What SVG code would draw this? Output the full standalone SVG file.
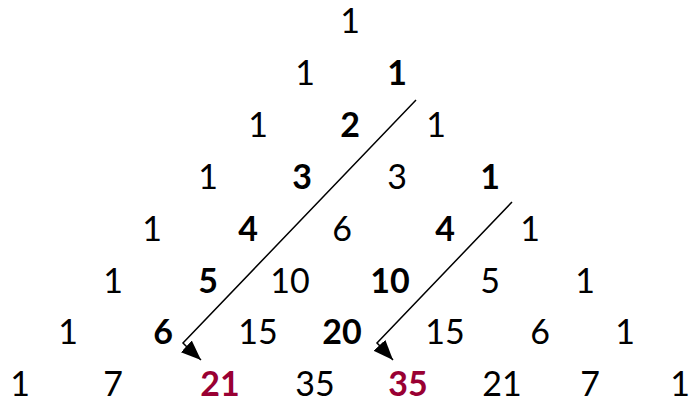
<svg xmlns="http://www.w3.org/2000/svg" width="690" height="402" viewBox="0 0 690 402">
<style>
text{font-family:Lato,"Noto Sans",sans-serif;font-size:34px;fill:#000;text-anchor:middle}
.b{font-weight:bold}
.r{font-weight:bold;fill:#990033}
.c{fill:none;stroke:#000;stroke-width:1.5}
</style>
<defs>
<marker id="ah" markerUnits="userSpaceOnUse" markerWidth="22" markerHeight="18" refX="20" refY="8" orient="auto">
<path d="M0,0 L20,8 L0,16 z" fill="#000"/>
</marker>
</defs>
<rect width="690" height="402" fill="#fff"/>
<g id="row0"><text x="350" y="33">1</text></g>
<g id="row1"><text x="305" y="85">1</text><text class="b" x="397" y="85">1</text></g>
<g id="row2"><text x="258" y="137">1</text><text class="b" x="350" y="137">2</text><text x="436" y="137">1</text></g>
<g id="row3"><text x="208" y="189">1</text><text class="b" x="302" y="189">3</text><text x="397" y="189">3</text><text class="b" x="490" y="189">1</text></g>
<g id="row4"><text x="152" y="241">1</text><text class="b" x="248" y="241">4</text><text x="342" y="241">6</text><text class="b" x="445" y="241">4</text><text x="530" y="241">1</text></g>
<g id="row5"><text x="113" y="293">1</text><text class="b" x="208" y="293">5</text><text x="290" y="293">10</text><text class="b" x="390" y="293">10</text><text x="490" y="293">5</text><text x="585" y="293">1</text></g>
<g id="row6"><text x="68" y="344">1</text><text class="b" x="163" y="344">6</text><text x="258" y="344">15</text><text class="b" x="342" y="344">20</text><text x="445" y="344">15</text><text x="540" y="344">6</text><text x="625" y="344">1</text></g>
<g id="row7"><text x="20" y="396">1</text><text x="113" y="396">7</text><text class="r" x="220" y="396">21</text><text x="315" y="396">35</text><text class="r" x="408" y="396">35</text><text x="502" y="396">21</text><text x="590" y="396">7</text><text x="680" y="396">1</text></g>
<g id="connectors">
<path class="c" d="M416,100 L183,343 L187,347 L201,360" marker-end="url(#ah)"/>
<path class="c" d="M512,202 L377,343 L381,347 L393,360" marker-end="url(#ah)"/>
</g>
</svg>
